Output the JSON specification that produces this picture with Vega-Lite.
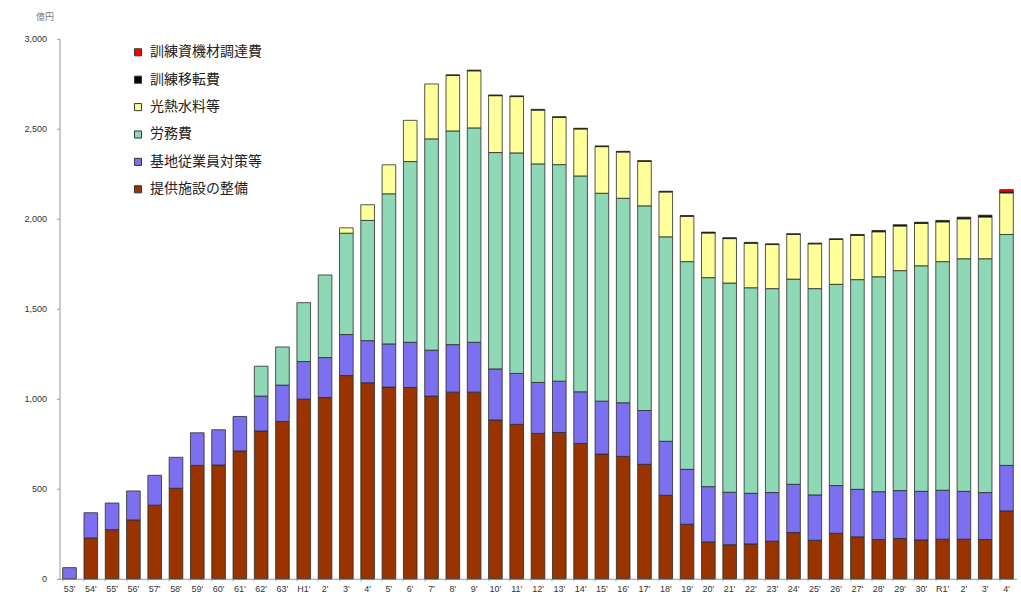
{
  "$schema": "https://vega.github.io/schema/vega-lite/v6.json",
  "width": 957,
  "height": 540,
  "autosize": {"type": "none"},
  "padding": {"left": 59.5, "top": 38.8, "right": 4, "bottom": 32},
  "background": "white",
  "data": {
    "values": [
      {"year": "S53", "提供施設の整備": 0, "基地従業員対策等": 62, "労務費": 0, "光熱水料等": 0, "訓練移転費": 0, "訓練資機材調達費": 0},
      {"year": "S54", "提供施設の整備": 227, "基地従業員対策等": 140, "労務費": 0, "光熱水料等": 0, "訓練移転費": 0, "訓練資機材調達費": 0},
      {"year": "S55", "提供施設の整備": 273, "基地従業員対策等": 148, "労務費": 0, "光熱水料等": 0, "訓練移転費": 0, "訓練資機材調達費": 0},
      {"year": "S56", "提供施設の整備": 327, "基地従業員対策等": 161, "労務費": 0, "光熱水料等": 0, "訓練移転費": 0, "訓練資機材調達費": 0},
      {"year": "S57", "提供施設の整備": 409, "基地従業員対策等": 166, "労務費": 0, "光熱水料等": 0, "訓練移転費": 0, "訓練資機材調達費": 0},
      {"year": "S58", "提供施設の整備": 503, "基地従業員対策等": 172, "労務費": 0, "光熱水料等": 0, "訓練移転費": 0, "訓練資機材調達費": 0},
      {"year": "S59", "提供施設の整備": 630, "基地従業員対策等": 181, "労務費": 0, "光熱水料等": 0, "訓練移転費": 0, "訓練資機材調達費": 0},
      {"year": "S60", "提供施設の整備": 632, "基地従業員対策等": 196, "労務費": 0, "光熱水料等": 0, "訓練移転費": 0, "訓練資機材調達費": 0},
      {"year": "S61", "提供施設の整備": 710, "基地従業員対策等": 192, "労務費": 0, "光熱水料等": 0, "訓練移転費": 0, "訓練資機材調達費": 0},
      {"year": "S62", "提供施設の整備": 821, "基地従業員対策等": 194, "労務費": 166, "光熱水料等": 0, "訓練移転費": 0, "訓練資機材調達費": 0},
      {"year": "S63", "提供施設の整備": 874, "基地従業員対策等": 202, "労務費": 212, "光熱水料等": 0, "訓練移転費": 0, "訓練資機材調達費": 0},
      {"year": "H1", "提供施設の整備": 998, "基地従業員対策等": 209, "労務費": 327, "光熱水料等": 0, "訓練移転費": 0, "訓練資機材調達費": 0},
      {"year": "H2", "提供施設の整備": 1007, "基地従業員対策等": 222, "労務費": 459, "光熱水料等": 0, "訓練移転費": 0, "訓練資機材調達費": 0},
      {"year": "H3", "提供施設の整備": 1129, "基地従業員対策等": 228, "労務費": 563, "光熱水料等": 30, "訓練移転費": 0, "訓練資機材調達費": 0},
      {"year": "H4", "提供施設の整備": 1089, "基地従業員対策等": 234, "労務費": 668, "光熱水料等": 87, "訓練移転費": 0, "訓練資機材調達費": 0},
      {"year": "H5", "提供施設の整備": 1065, "基地従業員対策等": 240, "労務費": 834, "光熱水料等": 161, "訓練移転費": 0, "訓練資機材調達費": 0},
      {"year": "H6", "提供施設の整備": 1063, "基地従業員対策等": 251, "労務費": 1004, "光熱水料等": 229, "訓練移転費": 0, "訓練資機材調達費": 0},
      {"year": "H7", "提供施設の整備": 1015, "基地従業員対策等": 255, "労務費": 1174, "光熱水料等": 305, "訓練移転費": 0, "訓練資機材調達費": 0},
      {"year": "H8", "提供施設の整備": 1037, "基地従業員対策等": 264, "労務費": 1187, "光熱水料等": 308, "訓練移転費": 4, "訓練資機材調達費": 0},
      {"year": "H9", "提供施設の整備": 1037, "基地従業員対策等": 277, "労務費": 1191, "光熱水料等": 317, "訓練移転費": 4, "訓練資機材調達費": 0},
      {"year": "H10", "提供施設の整備": 882, "基地従業員対策等": 284, "労務費": 1202, "光熱水料等": 316, "訓練移転費": 4, "訓練資機材調達費": 0},
      {"year": "H11", "提供施設の整備": 858, "基地従業員対策等": 283, "労務費": 1225, "光熱水料等": 313, "訓練移転費": 4, "訓練資機材調達費": 0},
      {"year": "H12", "提供施設の整備": 808, "基地従業員対策等": 283, "労務費": 1214, "光熱水料等": 299, "訓練移転費": 4, "訓練資機材調達費": 0},
      {"year": "H13", "提供施設の整備": 813, "基地従業員対策等": 285, "労務費": 1203, "光熱水料等": 262, "訓練移転費": 4, "訓練資機材調達費": 0},
      {"year": "H14", "提供施設の整備": 752, "基地従業員対策等": 287, "労務費": 1199, "光熱水料等": 261, "訓練移転費": 4, "訓練資機材調達費": 0},
      {"year": "H15", "提供施設の整備": 693, "基地従業員対策等": 294, "労務費": 1155, "光熱水料等": 259, "訓練移転費": 4, "訓練資機材調達費": 0},
      {"year": "H16", "提供施設の整備": 680, "基地従業員対策等": 298, "労務費": 1136, "光熱水料等": 257, "訓練移転費": 4, "訓練資機材調達費": 0},
      {"year": "H17", "提供施設の整備": 636, "基地従業員対策等": 299, "労務費": 1137, "光熱水料等": 247, "訓練移転費": 4, "訓練資機材調達費": 0},
      {"year": "H18", "提供施設の整備": 464, "基地従業員対策等": 300, "労務費": 1136, "光熱水料等": 249, "訓練移転費": 4, "訓練資機材調達費": 0},
      {"year": "H19", "提供施設の整備": 303, "基地従業員対策等": 305, "労務費": 1154, "光熱水料等": 252, "訓練移転費": 4, "訓練資機材調達費": 0},
      {"year": "H20", "提供施設の整備": 205, "基地従業員対策等": 307, "労務費": 1161, "光熱水料等": 248, "訓練移転費": 5, "訓練資機材調達費": 0},
      {"year": "H21", "提供施設の整備": 189, "基地従業員対策等": 292, "労務費": 1162, "光熱水料等": 247, "訓練移転費": 5, "訓練資機材調達費": 0},
      {"year": "H22", "提供施設の整備": 194, "基地従業員対策等": 281, "労務費": 1142, "光熱水料等": 247, "訓練移転費": 5, "訓練資機材調達費": 0},
      {"year": "H23", "提供施設の整備": 209, "基地従業員対策等": 270, "労務費": 1133, "光熱水料等": 245, "訓練移転費": 4, "訓練資機材調達費": 0},
      {"year": "H24", "提供施設の整備": 257, "基地従業員対策等": 268, "労務費": 1140, "光熱水料等": 248, "訓練移転費": 4, "訓練資機材調達費": 0},
      {"year": "H25", "提供施設の整備": 214, "基地従業員対策等": 252, "労務費": 1146, "光熱水料等": 249, "訓練移転費": 4, "訓練資機材調達費": 0},
      {"year": "H26", "提供施設の整備": 253, "基地従業員対策等": 265, "労務費": 1118, "光熱水料等": 249, "訓練移転費": 4, "訓練資機材調達費": 0},
      {"year": "H27", "提供施設の整備": 233, "基地従業員対策等": 264, "労務費": 1165, "光熱水料等": 246, "訓練移転費": 5, "訓練資機材調達費": 0},
      {"year": "H28", "提供施設の整備": 218, "基地従業員対策等": 266, "労務費": 1194, "光熱水料等": 250, "訓練移転費": 7, "訓練資機材調達費": 0},
      {"year": "H29", "提供施設の整備": 224, "基地従業員対策等": 266, "労務費": 1222, "光熱水料等": 248, "訓練移転費": 7, "訓練資機材調達費": 0},
      {"year": "H30", "提供施設の整備": 216, "基地従業員対策等": 270, "労務費": 1253, "光熱水料等": 235, "訓練移転費": 7, "訓練資機材調達費": 0},
      {"year": "R1", "提供施設の整備": 220, "基地従業員対策等": 272, "労務費": 1270, "光熱水料等": 221, "訓練移転費": 8, "訓練資機材調達費": 0},
      {"year": "R2", "提供施設の整備": 220, "基地従業員対策等": 266, "労務費": 1292, "光熱水料等": 222, "訓練移転費": 9, "訓練資機材調達費": 0},
      {"year": "R3", "提供施設の整備": 218, "基地従業員対策等": 261, "労務費": 1299, "光熱水料等": 232, "訓練移転費": 10, "訓練資機材調達費": 0},
      {"year": "R4", "提供施設の整備": 377, "基地従業員対策等": 253, "労務費": 1283, "光熱水料等": 231, "訓練移転費": 5, "訓練資機材調達費": 13}
    ]
  },
  "transform": [
    {"fold": ["提供施設の整備", "基地従業員対策等", "労務費", "光熱水料等", "訓練移転費", "訓練資機材調達費"], "as": ["item", "value"]},
    {"filter": "datum.value > 0"},
    {
      "lookup": "item",
      "from": {
        "data": {
          "values": [
            {"item": "提供施設の整備", "rank": 1},
            {"item": "基地従業員対策等", "rank": 2},
            {"item": "労務費", "rank": 3},
            {"item": "光熱水料等", "rank": 4},
            {"item": "訓練移転費", "rank": 5},
            {"item": "訓練資機材調達費", "rank": 6}
          ]
        },
        "key": "item",
        "fields": ["rank"]
      }
    }
  ],
  "mark": {"type": "bar", "stroke": "#2a2a2a", "strokeWidth": 0.8},
  "encoding": {
    "x": {
      "field": "year",
      "type": "nominal",
      "sort": null,
      "scale": {"paddingInner": 0.36, "paddingOuter": 0.15},
      "axis": {
        "title": null,
        "labelAngle": 0,
        "labelExpr": "(datum.value == 'H1' || datum.value == 'R1') ? datum.value + \"'\" : slice(datum.value, 1) + \"'\"",
        "labelFont": "Liberation Sans",
        "labelFontSize": 9,
        "labelColor": "#333",
        "labelPadding": 4,
        "domainColor": "#999",
        "domainWidth": 1,
        "tickColor": "#8aa0c8",
        "tickSize": 2,
        "bandPosition": 0
      }
    },
    "y": {
      "field": "value",
      "type": "quantitative",
      "stack": "zero",
      "scale": {"domain": [0, 3000], "nice": false},
      "axis": {
        "values": [0, 500, 1000, 1500, 2000, 2500, 3000],
        "format": ",d",
        "grid": false,
        "title": "億円",
        "titleAngle": 0,
        "titleX": -15,
        "titleY": -22,
        "titleAlign": "center",
        "titleBaseline": "middle",
        "titleFont": "Noto Sans CJK JP",
        "titleFontSize": 9,
        "titleFontWeight": "normal",
        "titleColor": "#777",
        "labelFont": "Liberation Sans",
        "labelFontSize": 9,
        "labelColor": "#333",
        "labelPadding": 10,
        "domainColor": "#999",
        "tickColor": "#999",
        "tickSize": 3
      }
    },
    "order": {"field": "rank", "type": "quantitative", "sort": "ascending"},
    "color": {
      "field": "item",
      "type": "nominal",
      "sort": ["訓練資機材調達費", "訓練移転費", "光熱水料等", "労務費", "基地従業員対策等", "提供施設の整備"],
      "scale": {
        "domain": ["訓練資機材調達費", "訓練移転費", "光熱水料等", "労務費", "基地従業員対策等", "提供施設の整備"],
        "range": ["#ff0000", "#000000", "#ffff99", "#8fd8b6", "#7c70f0", "#993300"]
      },
      "legend": {
        "orient": "none",
        "legendX": 71.5,
        "legendY": 6.5,
        "title": null,
        "padding": 0,
        "symbolType": "square",
        "symbolSize": 50,
        "symbolStrokeColor": "#333",
        "symbolStrokeWidth": 1,
        "labelFont": "Noto Sans CJK JP",
        "labelFontSize": 14,
        "labelColor": "#222",
        "labelOffset": 5,
        "rowPadding": 13.4
      }
    }
  },
  "config": {
    "view": {"stroke": null}
  }
}
